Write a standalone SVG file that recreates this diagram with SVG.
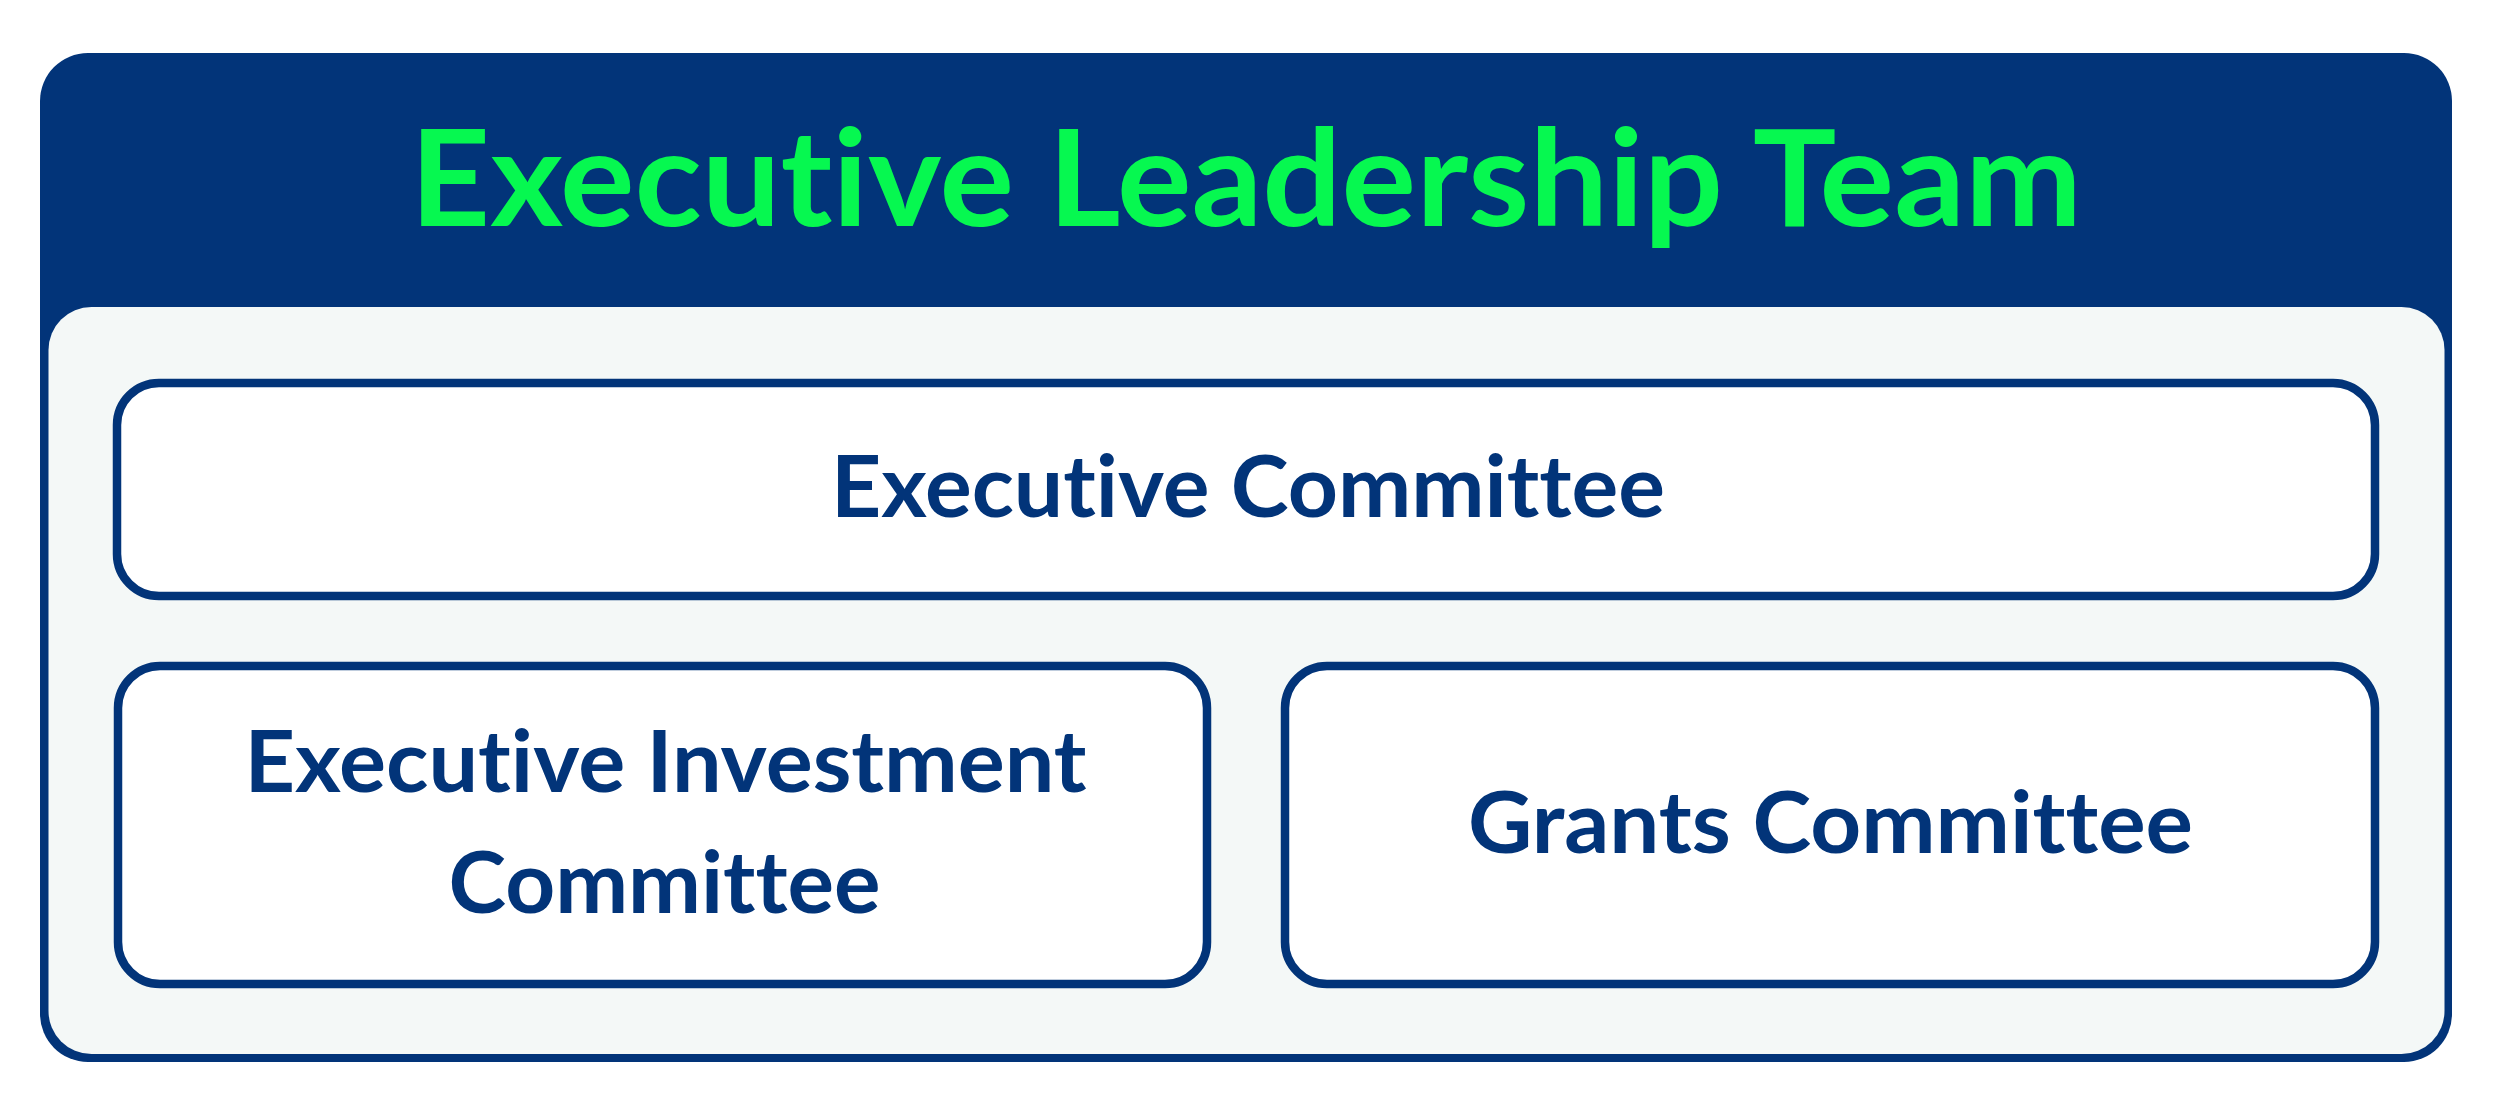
<svg xmlns="http://www.w3.org/2000/svg" width="2509" height="1115" viewBox="0 0 2509 1115">
  <style>
    .box { fill: #ffffff; stroke: #023479; stroke-width: 8.5; }
    .lbl { font-family: Lato, "Liberation Sans", sans-serif; font-weight: 700; font-size: 87px; fill: #023479; text-anchor: middle; font-variant-ligatures: none; font-feature-settings: "liga" 0, "clig" 0, "dlig" 0; }
    .title { font-family: Lato, "Liberation Sans", sans-serif; font-weight: 700; font-size: 135px; fill: #06F850; text-anchor: middle; font-variant-ligatures: none; font-feature-settings: "liga" 0, "clig" 0, "dlig" 0; }
  </style>
  <rect width="2509" height="1115" fill="#ffffff"/>
  <g id="executive-leadership-team">
    <rect x="40" y="53" width="2412" height="1009" rx="48" ry="48" fill="#023479"/>
    <rect x="48.5" y="307" width="2396" height="747" rx="43" ry="43" fill="#F4F8F7"/>
    <text class="title" x="1246" y="226" textLength="1672" lengthAdjust="spacingAndGlyphs">Executive Leadership Team</text>
  </g>
  <g id="executive-committee">
    <rect class="box" x="117" y="383" width="2258" height="213" rx="42" ry="42"/>
    <text class="lbl" x="1248" y="517" textLength="834" lengthAdjust="spacingAndGlyphs">Executive Committee</text>
  </g>
  <g id="executive-investment-committee">
    <rect class="box" x="118" y="666" width="1089" height="318" rx="42" ry="42"/>
    <text class="lbl" x="665.5" y="792" textLength="842" lengthAdjust="spacingAndGlyphs">Executive Investment</text>
    <text class="lbl" x="664.5" y="913" textLength="432" lengthAdjust="spacingAndGlyphs">Committee</text>
  </g>
  <g id="grants-committee">
    <rect class="box" x="1285" y="666" width="1090" height="318" rx="42" ry="42"/>
    <text class="lbl" x="1830.5" y="853" textLength="725" lengthAdjust="spacingAndGlyphs">Grants Committee</text>
  </g>
  <g id="connectors"></g>
</svg>
